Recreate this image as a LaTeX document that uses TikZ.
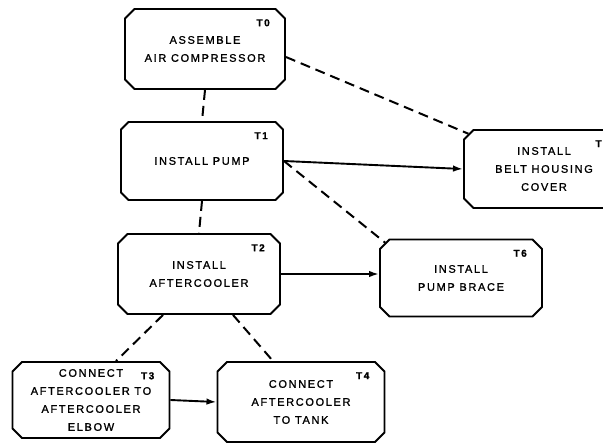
\documentclass[tikz,border=0pt]{standalone}
\usepackage{fontspec}
\setmainfont{Liberation Sans}[LetterSpace=15, FakeBold=1.2]
\usetikzlibrary{shapes.misc,arrows.meta}

\tikzset{
  task/.style={draw, line width=1.9pt, chamfered rectangle, chamfered rectangle xsep=6pt,
    inner sep=0pt, align=center, font=\fontsize{11}{18}\selectfont},
  tag/.style={anchor=north east, inner sep=0pt, font=\bfseries\fontsize{10}{10}\selectfont,
    xshift=-16pt, yshift=-11pt},
  link/.style={line width=2pt, dash pattern=on 10pt off 6pt},
  flow/.style={line width=1.9pt, -{Latex[length=10pt,width=6.5pt]}}
}

\begin{document}
\begin{tikzpicture}[x=1pt, y=-1pt]
  \useasboundingbox (0,0) rectangle (603,447);

  % tasks
  \node[task, minimum width=160pt, minimum height=80pt] (t0) at (205,49) {ASSEMBLE\\AIR COMPRESSOR};
  \node[task, minimum width=162pt, minimum height=78pt] (t1) at (202,161) {INSTALL PUMP};
  \node[task, minimum width=162pt, minimum height=80pt] (t2) at (199,274) {INSTALL\\AFTERCOOLER};
  \node[task, minimum width=160pt, minimum height=78pt] (t5) at (544,169) {INSTALL\\BELT HOUSING\\COVER};
  \node[task, minimum width=162pt, minimum height=77pt] (t6) at (461,278) {INSTALL\\PUMP BRACE};
  \node[task, minimum width=157pt, minimum height=76pt] (t3) at (91,400) {CONNECT\\AFTERCOOLER TO\\AFTERCOOLER\\ELBOW};
  \node[task, minimum width=167pt, minimum height=80pt] (t4) at (301,402) {CONNECT\\AFTERCOOLER\\TO TANK};

  % task numbers
  \node[tag] (n0) at (t0.east |- t0.north) {T0};
  \node[tag] (n1) at (t1.east |- t1.north) {T1};
  \node[tag] (n2) at (t2.east |- t2.north) {T2};
  \node[tag] (n3) at (t3.east |- t3.north) {T3};
  \node[tag] (n4) at (t4.east |- t4.north) {T4};
  \node[tag] (n5) at (t5.east |- t5.north) {T5};
  \node[tag] (n6) at (t6.east |- t6.north) {T6};

  % dashed links
  \draw[link] (t0.south) -- (t1.north);
  \draw[link] ([yshift=-8pt]t0.east) -- (t5.155);
  \draw[link] (t1.east) -- (t6.155);
  \draw[link] (t1.south) -- (t2.north);
  \draw[link] ([xshift=-36pt]t2.south) -- ([xshift=25pt]t3.north);
  \draw[link] ([xshift=34pt]t2.south) -- ([xshift=-28pt]t4.north);

  % solid arrows
  \draw[flow] (t1.east) -- (t5.west);
  \draw[flow] (t2.east) -- (t2.east -| t6.west);
  \draw[flow] (t3.east) -- (t4.west);
\end{tikzpicture}
\end{document}
